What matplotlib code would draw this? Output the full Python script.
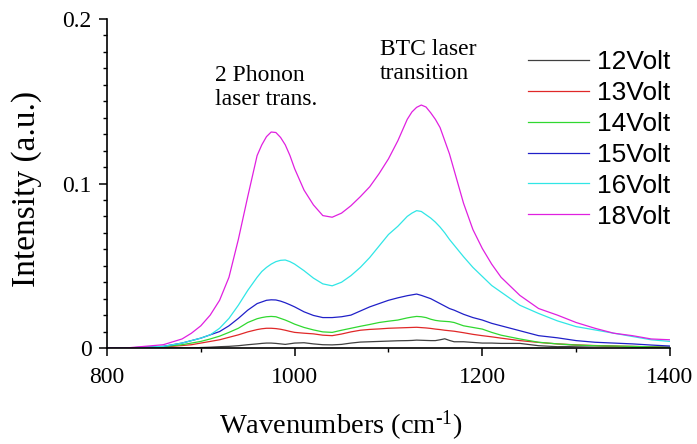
import matplotlib
matplotlib.use('Agg')
import matplotlib.pyplot as plt
from matplotlib.ticker import MultipleLocator

plt.rcParams['font.family'] = ['Liberation Serif', 'DejaVu Serif']
plt.rcParams['mathtext.fontset'] = 'custom'
plt.rcParams['mathtext.rm'] = 'Liberation Serif'
plt.rcParams['mathtext.it'] = 'Liberation Serif:italic'
plt.rcParams['mathtext.default'] = 'regular'

# wavenumber grid (cm-1) shared by all spectra
wn = [800, 820, 840, 860, 880, 890, 900, 910, 920, 930, 940, 950, 960,
      965, 970, 975, 980, 985, 990, 995,
      1000, 1010, 1020, 1030, 1040, 1050, 1060, 1070, 1080, 1090, 1100, 1110, 1120,
      1125, 1130, 1135, 1140, 1145, 1150, 1155, 1160, 1165, 1170,
      1180, 1190, 1200, 1210, 1220,
      1240, 1260, 1280, 1300, 1320, 1340, 1360, 1380, 1400]

v12 = [0.0, 0.0, 0.0, 0.0, 0.0, 0.0, 0.0003, 0.0005, 0.0008, 0.001, 0.0014, 0.002, 0.0025,
       0.0028, 0.003, 0.003, 0.0028, 0.0025, 0.0022, 0.0026,
       0.003, 0.0032, 0.0025, 0.002, 0.0019, 0.0022, 0.003, 0.0036, 0.0038, 0.004, 0.0042, 0.0044, 0.0045,
       0.0046, 0.0048, 0.0047, 0.0046, 0.0045, 0.0045, 0.005, 0.0056, 0.0046, 0.0038,
       0.0038, 0.0034, 0.003, 0.003, 0.0028,
       0.0028, 0.0014, 0.0008, 0.0011, 0.0013, 0.001, 0.0006, 0.0005, 0.0005]
v13 = [0.0, 0.0, 0.0003, 0.0006, 0.0015, 0.002, 0.003, 0.004, 0.005, 0.0065, 0.008, 0.0098, 0.0112,
       0.0117, 0.012, 0.012, 0.0118, 0.0114, 0.0108, 0.0101,
       0.0095, 0.009, 0.0086, 0.0078, 0.0075, 0.0085, 0.0098, 0.0108, 0.0113, 0.0116, 0.012, 0.0122, 0.0124,
       0.0125, 0.0126, 0.0124, 0.0122, 0.0119, 0.0115, 0.0112, 0.0108, 0.0105, 0.0102,
       0.0093, 0.0083, 0.0075, 0.0068, 0.006,
       0.0045, 0.0034, 0.0025, 0.0019, 0.0015, 0.0012, 0.001, 0.0007, 0.0004]
v14 = [0.0, 0.0, 0.0003, 0.0008, 0.002, 0.003, 0.004, 0.0055, 0.0072, 0.0095, 0.012, 0.0155, 0.0178,
       0.0185, 0.019, 0.0192, 0.019, 0.018, 0.017, 0.0158,
       0.0145, 0.0125, 0.011, 0.0098, 0.0095, 0.0108, 0.012, 0.0132, 0.0143, 0.0155, 0.0163, 0.017, 0.0183,
       0.0188, 0.0192, 0.019, 0.0185, 0.0175, 0.0168, 0.0164, 0.0162, 0.016, 0.0155,
       0.0135, 0.0125, 0.0115, 0.0095, 0.0078,
       0.0055, 0.0035, 0.0025, 0.0018, 0.0014, 0.0012, 0.001, 0.0007, 0.0004]
v15 = [0.0, 0.0, 0.0005, 0.001, 0.003, 0.0045, 0.006, 0.008, 0.010, 0.0135, 0.018, 0.023, 0.027,
       0.028, 0.029, 0.0293, 0.0292, 0.0285, 0.0275, 0.0263,
       0.025, 0.022, 0.0198, 0.0185, 0.0185, 0.019, 0.020, 0.0225, 0.025, 0.027, 0.029, 0.0305, 0.0318,
       0.0323, 0.0328, 0.032, 0.031, 0.030, 0.0285, 0.027, 0.0255, 0.024, 0.023,
       0.0205, 0.0185, 0.017, 0.015, 0.0135,
       0.0105, 0.0075, 0.0062, 0.0045, 0.0035, 0.003, 0.0025, 0.0018, 0.0012]
v16 = [0.0, 0.0, 0.0005, 0.001, 0.003, 0.0045, 0.006, 0.008, 0.012, 0.018, 0.026, 0.035, 0.043,
       0.0465, 0.049, 0.051, 0.0525, 0.0533, 0.0535, 0.0525,
       0.051, 0.047, 0.0425, 0.039, 0.0378, 0.040, 0.044, 0.049, 0.055, 0.062, 0.069, 0.074, 0.080,
       0.082, 0.0835, 0.083, 0.081, 0.079, 0.0765, 0.0735, 0.070, 0.066, 0.0625,
       0.0555, 0.049, 0.0435, 0.038, 0.034,
       0.026, 0.021, 0.0165, 0.013, 0.011, 0.009, 0.007, 0.005, 0.004]
v18 = [0.0, 0.0, 0.001, 0.002, 0.0055, 0.009, 0.0135, 0.020, 0.029, 0.043, 0.066, 0.092, 0.117,
       0.1235, 0.1285, 0.1313, 0.131, 0.128, 0.1235, 0.117,
       0.109, 0.096, 0.087, 0.0805, 0.0795, 0.082, 0.0865, 0.092, 0.098, 0.106, 0.115, 0.126, 0.139,
       0.1435, 0.1463, 0.1477, 0.1465, 0.143, 0.139, 0.134, 0.126, 0.118, 0.108,
       0.088, 0.072, 0.0605, 0.051, 0.043,
       0.032, 0.024, 0.020, 0.0155, 0.012, 0.009, 0.0075, 0.0055, 0.005]

labels = ['12Volt', '13Volt', '14Volt', '15Volt', '16Volt', '18Volt']
colors = ['#404040', '#e02828', '#30d830', '#2020c8', '#30e6e6', '#e020e0']
series = [v12, v13, v14, v15, v16, v18]

fig = plt.figure(figsize=(6.97, 4.44), dpi=100)
ax = fig.add_axes([0.1535, 0.2162, 0.8077, 0.741])

for vals, c, lab in zip(series, colors, labels):
    ax.plot(wn, vals, color=c, lw=0.9, label=lab)

ax.set_xlim(800, 1400)
ax.set_ylim(0, 0.2)
ax.spines['top'].set_visible(False)
ax.spines['right'].set_visible(False)
ax.spines['left'].set_linewidth(1.2)
ax.spines['bottom'].set_linewidth(1.2)

ax.set_xticks([800, 1000, 1200, 1400])
ax.xaxis.set_minor_locator(MultipleLocator(100))
ax.set_yticks([0, 0.1, 0.2])
ax.set_yticklabels(['0', '0.1', '0.2'])
ax.yaxis.set_minor_locator(MultipleLocator(0.01))
ax.tick_params(which='major', direction='out', length=6, width=1.1, labelsize=17)
ax.tick_params(axis='x', which='major', pad=8)
ax.tick_params(axis='y', which='major', pad=5)
ax.tick_params(which='minor', direction='out', length=3, width=1.0)

ax.set_ylabel('Intensity (a.u.)', fontsize=24)
ax.yaxis.set_label_coords(-0.142, 0.483)
ax.yaxis.label.set_va('center')
ax.set_xlabel(r'Wavenumbers (cm$^{\text{-1}}$)', fontsize=20.5)
ax.xaxis.set_label_coords(0.416, -0.262)
ax.xaxis.label.set_va('baseline')

ax.text(915, 0.172, '2 Phonon\nlaser trans.', fontsize=17, va='top', ha='left',
        linespacing=1.2)
ax.text(1091, 0.1878, 'BTC laser\ntransition', fontsize=17, va='top', ha='left',
        linespacing=1.2)

ax.legend(loc='upper left', bbox_to_anchor=(0.748, 0.905), frameon=False,
          prop={'family': 'Liberation Sans', 'size': 19}, handlelength=2.3,
          handletextpad=0.3, labelspacing=0.26, borderpad=0, borderaxespad=0)

fig.savefig('out.png', dpi=100)
